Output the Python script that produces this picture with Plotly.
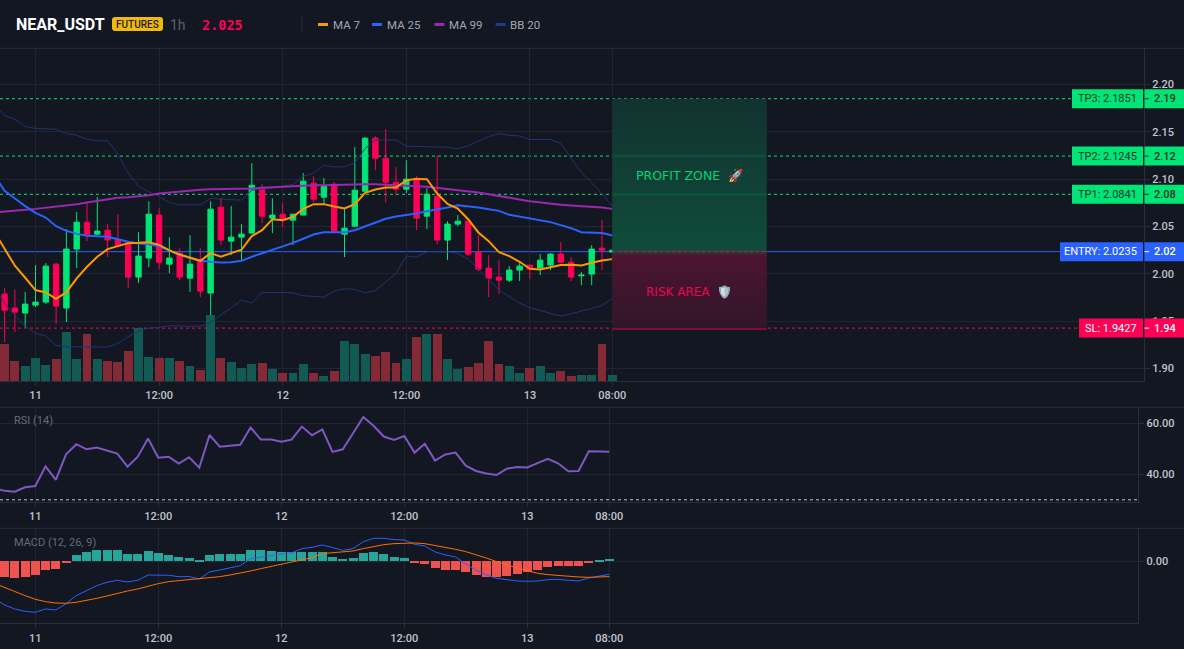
import pandas as pd
import plotly.graph_objects as go

# ---------- data ----------
line_times = pd.date_range("2025-03-10 20:00", periods=61, freq="h")
candle_times = line_times[1:]

opens = [1.9786,1.9639,1.9586,1.9670,1.9702,2.0103,1.9639,2.0262,2.0547,2.0420,2.0462,2.0364,2.0328,1.9966,2.0167,2.0621,2.0103,2.0219,1.9955,2.0145,
         1.9797,2.0705,2.0346,2.0388,2.0431,2.0906,2.0589,2.0631,2.0568,2.0621,2.0959,2.0811,2.0948,2.0420,2.0504,2.0874,2.1434,2.1223,2.0969,2.0895,
         2.1011,2.0610,2.0821,2.0357,2.0526,2.0557,2.0230,2.0061,1.9966,1.9934,2.0040,2.0093,2.0061,2.0093,2.0209,2.0124,1.9980,1.9998,2.0272,2.0230]
highs = [1.9850,1.9836,1.9807,2.0093,2.0114,2.0114,2.0473,2.0652,2.0758,2.0811,2.0526,2.0631,2.0339,2.0441,2.0768,2.0695,2.0388,2.0272,2.0409,2.0272,
         2.0768,2.0800,2.0716,2.0526,2.1170,2.0948,2.0800,2.0747,2.0631,2.1064,2.1032,2.1011,2.0969,2.0684,2.1339,2.1444,2.1455,2.1529,2.1127,2.1201,
         2.1032,2.0906,2.1247,2.0557,2.0621,2.0568,2.0409,2.0198,2.0145,2.0082,2.0114,2.0093,2.0209,2.0219,2.0335,2.0177,2.0019,2.0304,2.0568,2.0251]
lows = [1.9279,1.9389,1.9434,1.9649,1.9681,1.9470,1.9491,2.0061,2.0346,2.0409,2.0177,2.0293,1.9850,1.9903,2.0071,2.0050,2.0008,1.9934,1.9807,1.9755,
        1.9565,2.0304,2.0198,2.0145,2.0427,2.0536,2.0431,2.0494,2.0304,2.0621,2.0758,2.0737,2.0445,2.0177,2.0504,2.0871,2.1096,2.0758,2.0832,2.0853,
        2.0462,2.0473,2.0314,2.0145,2.0504,2.0188,2.0029,1.9755,1.9786,1.9913,1.9924,1.9945,1.9987,2.0040,2.0114,1.9924,1.9881,1.9881,2.0040,2.0230]
closes = [1.9617,1.9596,1.9681,1.9702,2.0082,1.9660,2.0262,2.0547,2.0406,2.0452,2.0357,2.0300,1.9966,2.0188,2.0631,2.0124,2.0167,1.9966,2.0103,1.9818,
          2.0684,2.0357,2.0388,2.0420,2.0937,2.0610,2.0621,2.0568,2.0631,2.0980,2.0790,2.0927,2.0452,2.0483,2.0885,2.1434,2.1223,2.0969,2.0895,2.1001,
          2.0589,2.0842,2.0357,2.0526,2.0557,2.0209,2.0050,1.9955,1.9934,2.0040,2.0082,2.0050,2.0145,2.0209,2.0124,1.9966,1.9987,2.0262,2.0251,2.0251]
volumes = [111,60,45,69,48,66,147,66,141,66,60,57,90,159,72,69,69,60,45,33,198,69,57,39,51,54,36,24,24,51,
           24,15,30,120,111,81,75,87,54,66,132,141,141,66,36,42,54,120,51,45,24,39,45,24,30,15,18,18,111,18]

ma7 = [2.0445,2.0269,2.0086,1.9959,1.9829,1.9804,1.9737,1.9807,1.9952,2.0075,2.0181,2.0262,2.0297,2.0325,2.0328,2.0335,2.0307,2.0248,2.0205,2.0174,2.0138,
       2.0219,2.0181,2.0219,2.0255,2.0399,2.0462,2.0578,2.0568,2.0603,2.0687,2.0737,2.0737,2.0712,2.0691,2.0737,2.0856,2.0892,2.0913,2.0913,2.0990,
       2.1004,2.1001,2.0849,2.0740,2.0691,2.0578,2.0438,2.0346,2.0230,2.0188,2.0128,2.0054,2.0047,2.0068,2.0093,2.0096,2.0089,2.0117,2.0142,2.0156]
ma25 = [2.1043,2.0878,2.0797,2.0716,2.0645,2.0596,2.0504,2.0455,2.0423,2.0402,2.0399,2.0392,2.0367,2.0339,2.0321,2.0314,2.0293,2.0248,2.0198,2.0170,2.0138,
        2.0128,2.0121,2.0124,2.0138,2.0181,2.0216,2.0255,2.0290,2.0328,2.0371,2.0416,2.0441,2.0441,2.0441,2.0462,2.0504,2.0543,2.0582,2.0606,2.0621,
        2.0638,2.0663,2.0680,2.0702,2.0726,2.0716,2.0702,2.0684,2.0666,2.0624,2.0603,2.0582,2.0568,2.0547,2.0515,2.0483,2.0441,2.0438,2.0431,2.0406]
ma99 = [2.0649,2.0656,2.0666,2.0677,2.0687,2.0698,2.0709,2.0723,2.0737,2.0754,2.0772,2.0790,2.0804,2.0811,2.0821,2.0832,2.0849,2.0860,2.0871,2.0881,2.0888,
        2.0895,2.0895,2.0899,2.0899,2.0902,2.0909,2.0916,2.0923,2.0930,2.0934,2.0937,2.0937,2.0941,2.0941,2.0944,2.0948,2.0948,2.0944,2.0941,2.0934,
        2.0927,2.0920,2.0909,2.0899,2.0888,2.0878,2.0860,2.0842,2.0821,2.0804,2.0786,2.0768,2.0754,2.0744,2.0730,2.0723,2.0716,2.0709,2.0702,2.0687]
bb_upper = [2.1782,2.1677,2.1631,2.1560,2.1536,2.1529,2.1529,2.1483,2.1465,2.1423,2.1406,2.1406,2.1265,2.1068,2.0927,2.0867,2.0818,2.0754,2.0730,2.0730,2.0730,
            2.0797,2.0793,2.0786,2.0779,2.0885,2.0892,2.0906,2.0927,2.0944,2.1032,2.1064,2.1145,2.1131,2.1131,2.1173,2.1325,2.1413,2.1416,2.1416,2.1349,
            2.1346,2.1346,2.1346,2.1339,2.1321,2.1353,2.1402,2.1451,2.1483,2.1465,2.1458,2.1420,2.1420,2.1420,2.1377,2.1219,2.1071,2.0962,2.0849,2.0712]
bb_lower = [1.9846,1.9688,1.9561,1.9448,1.9371,1.9343,1.9244,1.9230,1.9230,1.9227,1.9227,1.9227,1.9265,1.9336,1.9396,1.9427,1.9434,1.9452,1.9448,1.9448,1.9448,
            1.9484,1.9568,1.9642,1.9723,1.9691,1.9804,1.9804,1.9804,1.9800,1.9769,1.9762,1.9755,1.9818,1.9843,1.9836,1.9800,1.9825,1.9917,2.0005,2.0188,
            2.0177,2.0233,2.0233,2.0233,2.0216,2.0156,2.0050,1.9934,1.9829,1.9758,1.9691,1.9642,1.9614,1.9582,1.9554,1.9579,1.9603,1.9635,1.9667,1.9741]

rsi = [34.5,33.5,33.2,34.9,35.4,43.1,37.8,47.8,51.8,49.8,50.5,49.2,48.1,43.0,46.9,54.0,46.5,46.9,44.2,46.7,42.6,
       55.4,50.8,51.2,51.6,58.4,53.6,53.6,52.8,53.6,58.7,55.3,57.6,48.8,49.8,56.1,62.5,59.0,54.8,53.5,55.0,
       48.5,52.0,45.4,47.8,48.5,43.4,41.3,40.3,39.7,42.2,42.9,42.7,44.4,46.1,44.3,41.2,41.3,49.0,48.9,48.8]

macd_line = [-0.0110,-0.0130,-0.0142,-0.0149,-0.0152,-0.0142,-0.0145,-0.0126,-0.0102,-0.0086,-0.0072,-0.0062,-0.0056,-0.0061,-0.0056,-0.0040,-0.0041,-0.0041,-0.0045,-0.0045,-0.0052,
             -0.0031,-0.0025,-0.0019,-0.0012,0.0009,0.0014,0.0020,0.0023,0.0026,0.0039,0.0043,0.0050,0.0042,0.0034,0.0039,0.0060,0.0070,0.0070,0.0066,0.0065,
             0.0052,0.0047,0.0029,0.0020,0.0014,-0.0007,-0.0025,-0.0040,-0.0050,-0.0055,-0.0058,-0.0059,-0.0058,-0.0054,-0.0053,-0.0056,-0.0058,-0.0049,-0.0043,-0.0038]
macd_signal = [-0.0065,-0.0078,-0.0090,-0.0102,-0.0113,-0.0120,-0.0124,-0.0125,-0.0122,-0.0117,-0.0110,-0.0103,-0.0095,-0.0088,-0.0082,-0.0073,-0.0066,-0.0060,-0.0057,-0.0055,-0.0053,
               -0.0050,-0.0045,-0.0040,-0.0035,-0.0028,-0.0021,-0.0014,-0.0007,-0.0001,0.0006,0.0012,0.0024,0.0027,0.0029,0.0032,0.0039,0.0046,0.0051,0.0054,0.0056,
               0.0056,0.0054,0.0049,0.0043,0.0037,0.0030,0.0021,0.0011,0.0000,-0.0010,-0.0019,-0.0027,-0.0035,-0.0039,-0.0042,-0.0044,-0.0046,-0.0047,-0.0046,-0.0045]
macd_hist = [-0.0047,-0.0051,-0.0048,-0.0042,-0.0027,-0.0024,-0.0006,0.0020,0.0029,0.0035,0.0035,0.0035,0.0023,0.0023,0.0032,0.0026,0.0020,0.0014,0.0011,0.0002,
             0.0020,0.0023,0.0023,0.0023,0.0035,0.0035,0.0032,0.0029,0.0029,0.0029,0.0029,0.0029,0.0014,0.0008,0.0011,0.0026,0.0029,0.0023,0.0014,0.0011,
             -0.0004,-0.0007,-0.0019,-0.0025,-0.0025,-0.0031,-0.0040,-0.0046,-0.0046,-0.0043,-0.0037,-0.0031,-0.0025,-0.0016,-0.0013,-0.0013,-0.0013,-0.0004,0.0005,0.0008]

tick_dates = ["2025-03-11 00:00","2025-03-11 12:00","2025-03-12 00:00","2025-03-12 12:00","2025-03-13 00:00","2025-03-13 08:00"]
tick_text = ["11","12:00","12","12:00","13","08:00"]

level_names = ["TP3","TP2","TP1","ENTRY","SL"]
level_values = [2.1851,2.1245,2.0841,2.0235,1.9427]
zone_start, zone_end = "2025-03-13 08:00", "2025-03-13 23:00"
zone_bottom = 1.9417

# ---------- style ----------
BG = "#131722"
GRID = "#22252f"
AXIS = "#2b2e39"
TICK = "#c2c5cd"
UP = "#00e676"
DOWN = "#ff0055"
W, H = 1184, 649
base = pd.Timestamp("2025-03-11 00:00")
def px(x): return x / W
def py(y): return 1 - y / H
def hrs(h): return (base + pd.to_timedelta(h, unit="h")).strftime("%Y-%m-%d %H:%M:%S.%f")

FONT = "Roboto"
fig = go.Figure()

# volume (base axis, underneath everything)
fig.add_trace(go.Bar(x=candle_times, y=volumes, width=3600000 * 0.86, yaxis="y", xaxis="x",
                     marker=dict(color=["#125a54" if c >= o else "#832a36" for o, c in zip(opens, closes)], line_width=0),
                     hoverinfo="skip"))
# candles
fig.add_trace(go.Candlestick(x=candle_times, open=opens, high=highs, low=lows, close=closes, yaxis="y2", xaxis="x",
                             increasing=dict(line=dict(color=UP, width=1), fillcolor=UP),
                             decreasing=dict(line=dict(color=DOWN, width=1), fillcolor=DOWN),
                             whiskerwidth=0, hoverinfo="skip"))
# indicator lines
for vals, col, w in [(bb_upper, "#1e3574", 1), (bb_lower, "#1e3574", 1),
                     (ma99, "#9c27b0", 2), (ma25, "#2962ff", 2), (ma7, "#ff9800", 2)]:
    fig.add_trace(go.Scatter(x=line_times, y=vals, mode="lines", yaxis="y2", xaxis="x",
                             line=dict(color=col, width=w), hoverinfo="skip"))

# profit / risk zones
fig.add_trace(go.Scatter(x=[zone_start, zone_end, zone_end, zone_start, zone_start],
                         y=[level_values[0], level_values[0], level_values[3], level_values[3], level_values[0]],
                         mode="lines", line_width=0, fill="toself", yaxis="y2", xaxis="x", hoverinfo="skip",
                         fillgradient=dict(type="vertical", colorscale=[[0, "#0f4c3a"], [1, "#123230"]])))
fig.add_trace(go.Scatter(x=[zone_start, zone_end, zone_end, zone_start, zone_start],
                         y=[level_values[3], level_values[3], zone_bottom, zone_bottom, level_values[3]],
                         mode="lines", line_width=0, fill="toself", yaxis="y2", xaxis="x", hoverinfo="skip",
                         fillgradient=dict(type="vertical", colorscale=[[0, "#30162a"], [0.94, "#4c1430"], [1, "#2e3a35"]])))
for lv in (level_values[1], level_values[2]):
    fig.add_trace(go.Scatter(x=[zone_start, zone_end], y=[lv, lv], mode="lines", yaxis="y2", xaxis="x",
                             line=dict(color="rgba(0,230,118,0.10)", width=3), hoverinfo="skip"))
fig.add_trace(go.Scatter(x=[zone_start, zone_end], y=[level_values[3]] * 2, mode="lines", yaxis="y2", xaxis="x",
                         line=dict(color=DOWN, width=1, dash="dot"), hoverinfo="skip"))
fig.add_trace(go.Scatter(x=[zone_start, zone_end], y=[zone_bottom] * 2, mode="lines", yaxis="y2", xaxis="x",
                         line=dict(color=DOWN, width=1), opacity=0.85, hoverinfo="skip"))

# RSI
fig.add_trace(go.Scatter(x=line_times, y=rsi, mode="lines", xaxis="x2", yaxis="y3",
                         line=dict(color="#7e57c2", width=2), hoverinfo="skip"))
# MACD
fig.add_trace(go.Bar(x=candle_times, y=macd_hist, width=3600000 * 0.88, xaxis="x3", yaxis="y4",
                     marker=dict(color=["#26a69a" if v >= 0 else "#ef5350" for v in macd_hist], line_width=0),
                     hoverinfo="skip"))
fig.add_trace(go.Scatter(x=line_times, y=macd_line, mode="lines", xaxis="x3", yaxis="y4",
                         line=dict(color="#2962ff", width=1), hoverinfo="skip"))
fig.add_trace(go.Scatter(x=line_times, y=macd_signal, mode="lines", xaxis="x3", yaxis="y4",
                         line=dict(color="#ff6d00", width=1), hoverinfo="skip"))

tickfont = dict(family=FONT, size=11, color=TICK, weight=500)
common_x = dict(type="date", tickmode="array", tickvals=tick_dates, ticktext=tick_text, showgrid=True,
                gridcolor=GRID, gridwidth=1, ticks="outside", ticklen=4, tickcolor=AXIS, tickfont=tickfont,
                showline=True, linecolor=AXIS, linewidth=1, zeroline=False, rangeslider=dict(visible=False), fixedrange=True)
common_y = dict(showgrid=True, gridcolor=GRID, gridwidth=1, ticks="outside", ticklen=5, tickcolor=AXIS, tickfont=tickfont,
                showline=True, linecolor=AXIS, linewidth=1, zeroline=False, side="right", fixedrange=True)
main_dom = [py(381), py(48.3)]
rsi_dom = [py(501.7), py(407.3)]
macd_dom = [py(623.3), py(528.3)]

layout = dict(
    width=W, height=H, autosize=False, margin=dict(l=0, r=0, t=0, b=0),
    paper_bgcolor=BG, plot_bgcolor=BG, showlegend=False, bargap=0, barmode="overlay", hovermode=False, boxgap=0.25,
    xaxis=dict(common_x, domain=[0, px(1144)], range=[hrs(-35.5 / 10.3), hrs((1144 - 35.5) / 10.3)], anchor="y2"),
    xaxis2=dict(common_x, domain=[0, px(1138.3)], range=[hrs(-35.3 / 10.25), hrs((1138.3 - 35.3) / 10.25)], anchor="y3"),
    xaxis3=dict(common_x, domain=[0, px(1138.3)], range=[hrs(-35.3 / 10.25), hrs((1138.3 - 35.3) / 10.25)], anchor="y4"),
    yaxis=dict(domain=main_dom, range=[0, 998], visible=False, fixedrange=True, anchor="x"),
    yaxis2=dict(common_y, overlaying="y", anchor="x", range=[1.8868, 2.2384], tickvals=[1.90, 1.95, 2.00, 2.05, 2.10, 2.15, 2.20], tickformat=".2f"),
    yaxis3=dict(common_y, domain=rsi_dom, anchor="x2", range=[29.25, 66.27], tickvals=[40, 60], tickformat=".2f"),
    yaxis4=dict(common_y, domain=macd_dom, anchor="x3", range=[-0.0185, 0.0100], tickvals=[0], tickformat=".2f"),
)

shapes = []
annos = []
def line_px(x0, y0, x1, y1, color, width=1):
    shapes.append(dict(type="line", xref="paper", yref="paper", x0=px(x0), x1=px(x1), y0=py(y0), y1=py(y1),
                       line=dict(color=color, width=width), layer="above"))
def text_px(x, y, text, size, color, family=FONT, anchor="left", bold=False, weight=400):
    annos.append(dict(xref="paper", yref="paper", x=px(x), y=py(y), text=f"<b>{text}</b>" if bold else text,
                      showarrow=False, xanchor=anchor, yanchor="middle",
                      font=dict(family=family, size=size, color=color, weight=weight), borderpad=0))

# separators
for yy in (48.3, 407.3, 528.3):
    line_px(0, yy, W, yy, AXIS)
line_px(302, 16, 302, 32, AXIS)

# header
text_px(15, 24.5, "NEAR_USDT", 16, "#ffffff", bold=True)
r = 3
x0, x1, y0, y1 = px(112), px(163), py(31), py(17)
rx, ry = r / W, r / H
shapes.append(dict(type="path", xref="paper", yref="paper", layer="above", fillcolor="#f0b90b", line_width=0,
                   path=f"M {x0+rx} {y0} L {x1-rx} {y0} Q {x1} {y0} {x1} {y0+ry} L {x1} {y1-ry} Q {x1} {y1} {x1-rx} {y1} "
                        f"L {x0+rx} {y1} Q {x0} {y1} {x0} {y1-ry} L {x0} {y0+ry} Q {x0} {y0} {x0+rx} {y0} Z"))
text_px(137.5, 24.5, "FUTURES", 10, "#1e2329", anchor="center", weight=500)
text_px(169, 24.5, "1h", 14, "#59606f")
text_px(201, 24.5, "2.025", 13.5, DOWN, family="DejaVu Sans Mono", bold=True)
for lx, label, col in [(318, "MA 7", "#ff9800"), (372, "MA 25", "#2962ff"), (434.4, "MA 99", "#9c27b0"), (495.6, "BB 20", "#1e3a8a")]:
    line_px(lx, 24.5, lx + 10, 24.5, col, 3)
    text_px(lx + 13.5, 24.5, label, 11.5, "#a2a6b2")

# panel titles
text_px(13, 421, "RSI (14)", 11, "#666a76")
text_px(13, 542, "MACD (12, 26, 9)", 11, "#666a76")

# zone captions
text_px(635, 176, "PROFIT ZONE &nbsp;🚀", 12.5, "#00d476", family="DejaVu Sans")
text_px(645, 292, "RISK AREA &nbsp;🛡️", 12, "#e8084f", family="DejaVu Sans")

# price levels
level_cols = [UP, UP, UP, "#2962ff", DOWN]
level_txt = ["#0c3326", "#0c3326", "#0c3326", "#ffffff", "#ffffff"]
level_left = [1072, 1072, 1072, 1060, 1079]
level_dash = ["dot", "dot", "dot", "solid", "dot"]
for name, val, col, tcol, left, dash in zip(level_names, level_values, level_cols, level_txt, level_left, level_dash):
    shapes.append(dict(type="line", xref="paper", yref="y2", x0=0, x1=px(left), y0=val, y1=val,
                       line=dict(color=col, width=1, dash=dash), layer="below"))
    for a, b in ((left, 1143), (1144.5, W)):
        shapes.append(dict(type="rect", xref="paper", yref="y2", x0=px(a), x1=px(b), ysizemode="pixel", yanchor=val,
                           y0=-9.5, y1=9.5, fillcolor=col, line_width=0, layer="above"))
    shapes.append(dict(type="line", xref="paper", yref="y2", x0=px(1144.5), x1=px(1149), y0=val, y1=val,
                       line=dict(color=tcol, width=1), layer="above"))
    annos.append(dict(xref="paper", yref="y2", x=px(1139), y=val, text=f"{name}: {val:.4f}", showarrow=False, xanchor="right",
                      yanchor="middle", font=dict(family=FONT, size=11, color=tcol)))
    annos.append(dict(xref="paper", yref="y2", x=px(1152), y=val, text=f"{val:.2f}", showarrow=False, xanchor="left",
                      yanchor="middle", font=dict(family=FONT, size=11, color=tcol, weight=500)))

# RSI lower band
shapes.append(dict(type="line", xref="x2", yref="y3", x0=hrs(-35.3 / 10.25), x1=hrs((1138.3 - 35.3) / 10.25), y0=30, y1=30,
                   line=dict(color="#c3c6cd", width=1, dash="dot"), layer="above"))

fig.update_layout(**layout, shapes=shapes, annotations=annos)
fig.write_html("out.html", config=dict(displayModeBar=False), post_script="document.body.style.margin='0';")
